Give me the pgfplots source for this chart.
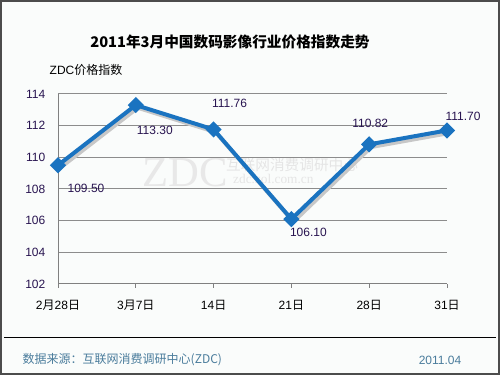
\documentclass[border=0pt]{standalone}
\usepackage{fontspec}
\setmainfont{Liberation Sans}
\newfontfamily\cjk{Noto Sans CJK SC}
\newfontfamily\wmserif{Liberation Serif}
\usepackage{pgfplots}
\pgfplotsset{compat=1.18}
\definecolor{linec}{RGB}{26,115,192}
\definecolor{foot}{RGB}{74,124,156}
\definecolor{numc}{RGB}{40,20,80}
\definecolor{bg}{RGB}{250,252,251}
\newcommand{\zh}[1]{{\cjk #1}}
\begin{document}
\begin{tikzpicture}
\useasboundingbox (0,0) rectangle (375pt,281.25pt);
\fill[bg] (0,0) rectangle (375pt,281.25pt);
\draw[black!70, line width=1.5pt] (0.75pt,0.75pt) rectangle (374.25pt,280.5pt);
\node[font=\cjk\bfseries\fontsize{11}{13}\selectfont] at (172.5pt,249.75pt) {2011年3月中国数码影像行业价格指数走势};
\node[anchor=west, font=\fontsize{9}{11}\selectfont] at (33.75pt,228.75pt) {ZDC\zh{价格指数}};
% watermark
\node[font=\wmserif\fontsize{32}{32}\selectfont, text=black!9] at (138.75pt,151.5pt) {ZDC};
\node[font=\cjk\fontsize{11}{11}\selectfont, text=black!10] at (219pt,157.5pt) {互联网消费调研中心};
\node[font=\wmserif\fontsize{10}{10}\selectfont, text=black!10] at (205pt,147pt) {zdc.zol.com.cn};
\draw[black, line width=0.75pt] (3pt,27.75pt) -- (372pt,27.75pt);
\node[anchor=west, text=foot, font=\cjk\fontsize{9}{11}\selectfont] at (13.5pt,11.25pt) {数据来源：互联网消费调研中心(ZDC)};
\node[anchor=east, text=foot, font=\fontsize{9}{11}\selectfont] at (349.5pt,11.25pt) {2011.04};
\begin{axis}[
  at={(43.5pt,68.25pt)}, anchor=south west,
  scale only axis, width=291.75pt, height=142.5pt,
  xmin=0, xmax=5, ymin=102, ymax=114,
  ytick={102,104,...,114},
  xtick={0,1,2,3,4,5},
  xticklabels={2\zh{月}28\zh{日}, 3\zh{月}7\zh{日}, 14\zh{日}, 21\zh{日}, 28\zh{日}, 31\zh{日}},
  axis x line*=bottom, axis y line*=left,
  axis line style={black!50, line width=0.75pt, -},
  ymajorgrids, major grid style={black!45, line width=0.75pt},
  ytick style={draw=none},
  xtick style={black!50, line width=0.75pt},
  xtick align=outside, major tick length=3pt,
  /pgf/number format/assume math mode=true,
  ticklabel style={font=\fontsize{9}{11}\selectfont},
  yticklabel style={text=numc, xshift=-6pt},
  xticklabel style={yshift=-5.5pt},
  clip=false,
]
\addplot[black!22, line width=3pt, no markers, xshift=1.5pt, yshift=-2pt, forget plot] coordinates {(0,109.50) (1,113.30) (2,111.76) (3,106.10) (4,110.82) (5,111.70)};
\addplot[linec, line width=3pt, mark=square*, mark size=2.8pt, mark options={rotate=45, solid}] coordinates {(0,109.50) (1,113.30) (2,111.76) (3,106.10) (4,110.82) (5,111.70)};
\begin{scope}[every node/.style={font=\fontsize{9}{11}\selectfont, text=numc}]
\node at ([shift={(21pt,-17pt)}]axis cs:0,109.50) {109.50};
\node at ([shift={(14.25pt,-19pt)}]axis cs:1,113.30) {113.30};
\node at ([shift={(12pt,19.4pt)}]axis cs:2,111.76) {111.76};
\node at ([shift={(12.75pt,-10pt)}]axis cs:3,106.10) {106.10};
\node at ([shift={(0.75pt,16pt)}]axis cs:4,110.82) {110.82};
\node at ([shift={(12pt,10.8pt)}]axis cs:5,111.70) {111.70};
\end{scope}
\end{axis}
\end{tikzpicture}
\end{document}
